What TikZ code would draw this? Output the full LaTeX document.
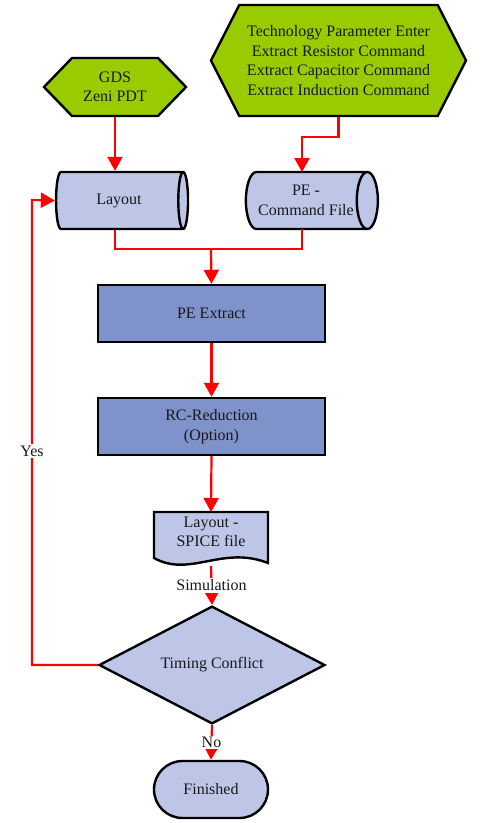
\documentclass[tikz,border=0pt]{standalone}
\usepackage{fontspec}
\setmainfont{Liberation Serif}
\usetikzlibrary{arrows.meta,shapes.geometric,shapes.symbols,shapes.misc}
\definecolor{leafgreen}{RGB}{153,204,0}
\definecolor{paleblue}{RGB}{190,198,232}
\definecolor{midblue}{RGB}{128,146,202}
\definecolor{flowred}{RGB}{255,0,0}
\tikzset{
	outline/.style={draw=black, line width=2.4pt},
	box/.style={outline, align=center, inner sep=0pt, text=black!90, font=\fontsize{16}{19.5}\selectfont},
	hexbox/.style={box, signal, signal to=east and west, fill=leafgreen},
	store/.style={box, cylinder, aspect=0.7, fill=paleblue, minimum width=57pt, minimum height=132pt},
	procbox/.style={box, rectangle, fill=midblue, minimum width=227pt, minimum height=57pt},
	link/.style={flowred, line width=2.2pt},
	flow/.style={link, -{Triangle[length=14pt,width=15pt]}},
	lbl/.style={fill=white, text=black!90, inner sep=1.5pt, font=\fontsize{16}{19.5}\selectfont}
}
\begin{document}
\begin{tikzpicture}[x=1pt,y=-1pt]
			\useasboundingbox (0,0) rectangle (492,823);
			\node[hexbox, signal pointer angle=92, minimum width=142pt, minimum height=58pt] (gds) at (115,87) {GDS\\Zeni PDT};
			\node[hexbox, signal pointer angle=126, minimum width=255pt, minimum height=111pt] (param) at (338.5,60.5) {Technology Parameter Enter\\Extract Resistor Command\\Extract Capacitor Command\\Extract Induction Command};
			\node[store] (layout) at (119,200.5) {Layout};
			\node[store] (pecmd) at (306,200.5) {PE -\\Command File};
			\node[procbox] (extract) at (211.5,313.5) {PE Extract};
			\node[procbox] (reduce) at (211.5,426.5) {RC-Reduction\\(Option)};
			\filldraw[outline, fill=paleblue] (154,512) -- coordinate (spicetop) (268,512) -- (268,563) .. controls (222,545) and (190,578) .. (154,558) -- cycle;
			\node[box, draw=none] (spice) at (211,532) {Layout -\\SPICE file};
			\coordinate (spicebot) at (211,566);
			\node[box, diamond, fill=paleblue, minimum width=226pt, minimum height=79pt] (timing) at (212,665) {Timing Conflict};
			\node[box, rounded rectangle, fill=paleblue, minimum width=114pt, minimum height=57pt] (finished) at (211,789.5) {Finished};
			\coordinate (join) at (211,249);
			\coordinate (back) at (32,200);
			\draw[flow] (gds.south) -- (gds.south |- layout.north);
			\draw[flow] (param.south) -- ++(0,20) -| (302,172);
			\draw[link] (layout.south -| gds.south) |- (join);
			\draw[link] (302,229) |- (join);
			\draw[flow] (join) -- (extract.north);
			\draw[flow] (extract.south) -- (reduce.north);
			\draw[flow] (reduce.south) -- (spicetop);
			\draw[flow] (spicebot) -- node[lbl]{Simulation} (timing.north);
			\draw[flow] (timing.south) -- node[lbl]{No} (finished.north);
			\draw[flow] (timing.west) -| node[lbl, pos=0.73]{Yes} (back) -- (layout.west);
		\end{tikzpicture}
\end{document}
